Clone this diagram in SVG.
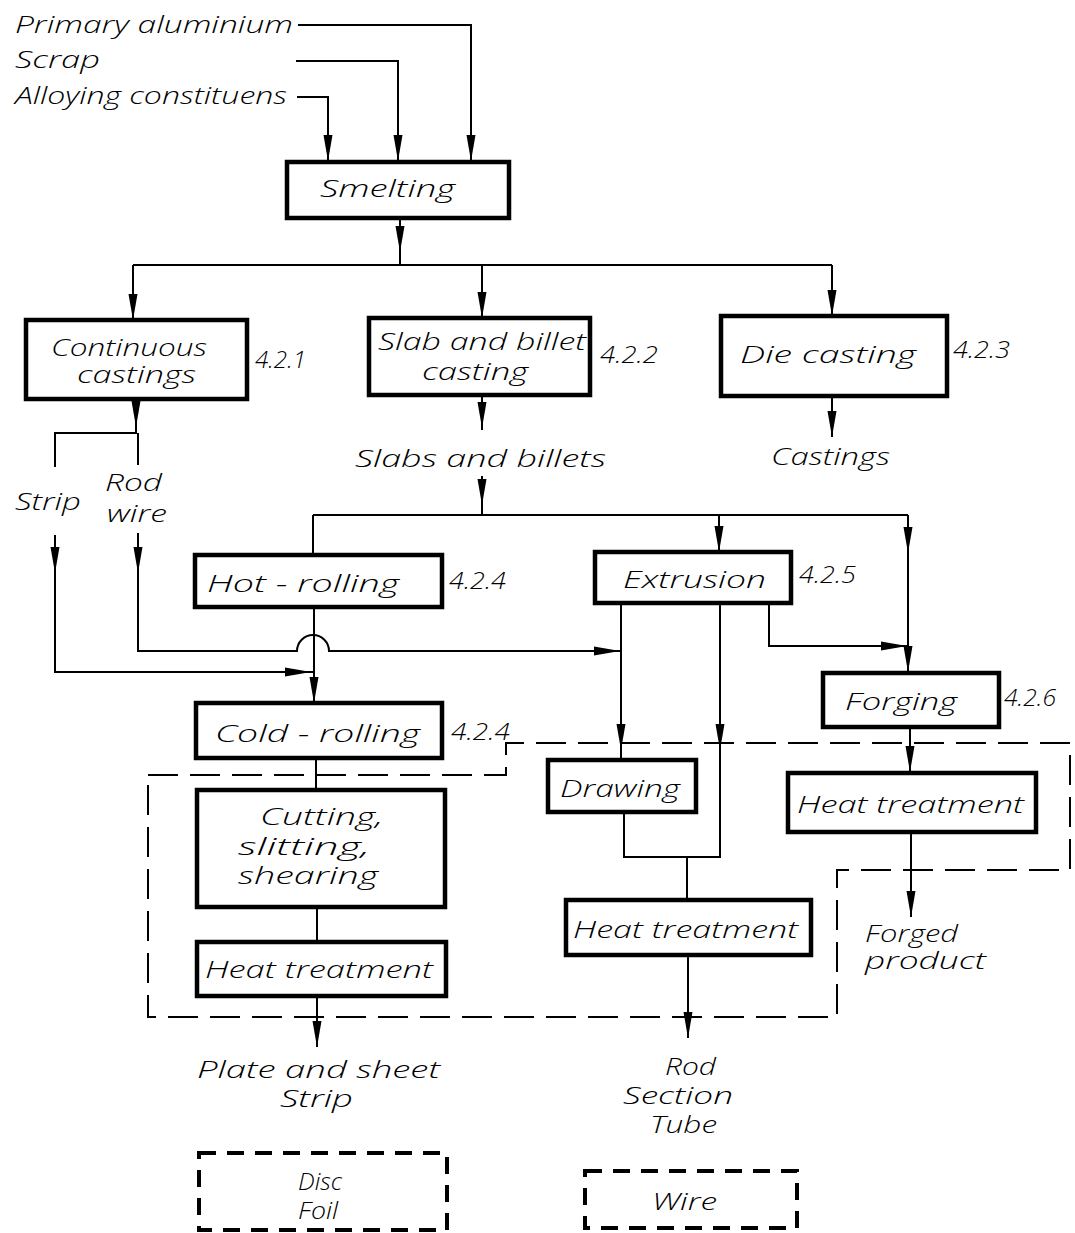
<svg xmlns="http://www.w3.org/2000/svg" xmlns:xlink="http://www.w3.org/1999/xlink" width="1075" height="1233" viewBox="0 0 1075 1233">
<style>
.t{font-family:"Open Sans","DejaVu Sans","Liberation Sans",sans-serif;font-style:italic;font-weight:300;font-size:24px;fill:#000}
.box{fill:#fff;stroke:#000;stroke-width:4.5}
.ln{fill:none;stroke:#000;stroke-width:2}
.dash{fill:none;stroke:#000;stroke-width:2;stroke-dasharray:30 12}
.dbox{fill:none;stroke:#000;stroke-width:4;stroke-dasharray:17 11}
</style>
<defs>
<path id="ah" d="M0,0 L-4.5,-26 L4.5,-26 Z" fill="#000"/>
</defs>
<rect width="1075" height="1233" fill="#fff"/>

<g id="inputs">
<text class="t" x="15" y="33" textLength="278" lengthAdjust="spacingAndGlyphs">Primary aluminium</text>
<text class="t" x="15" y="68" textLength="85" lengthAdjust="spacingAndGlyphs">Scrap</text>
<text class="t" x="15" y="104" textLength="272" lengthAdjust="spacingAndGlyphs">Alloying constituens</text>
</g>

<g id="connectors">
<path class="ln" d="M298,25 H471 V161"/>
<path class="ln" d="M296,61 H398 V161"/>
<path class="ln" d="M297,97 H328 V161"/>
<path class="ln" d="M400,218 V265"/>
<path class="ln" d="M133,265 H832 M133,265 V320 M482,265 V318 M832,265 V316"/>
<path class="ln" d="M136,399 V433 H55 V467 M55,535 V672 H313"/>
<path class="ln" d="M138,433 V465 M138,533 V651 H297 A16,16 0 0 1 329,651 H621"/>
<path class="ln" d="M482,395 V430 M482,476 V515 M313,515 H908 M313,515 V555 M719,515 V552 M908,515 V673"/>
<path class="ln" d="M314,607 V703"/>
<path class="ln" d="M316,758 V790 M317,907 V942 M317,996 V1047"/>
<path class="ln" d="M621,603 V760 M720,603 V857 H624 V812 M687,857 V900 M688,955 V1038"/>
<path class="ln" d="M769,603 V646 H908"/>
<path class="ln" d="M910,727 V773 M911,832 V917"/>
<path class="ln" d="M832,396 V437"/>
<path class="dash" d="M148,775 H506 V743 H1070 V870 H837 V1017 H148 Z"/>
<use xlink:href="#ah" x="471" y="161"/>
<use xlink:href="#ah" x="398" y="161"/>
<use xlink:href="#ah" x="328" y="161"/>
<use xlink:href="#ah" x="400" y="252"/>
<use xlink:href="#ah" x="133" y="320"/>
<use xlink:href="#ah" x="482" y="318"/>
<use xlink:href="#ah" x="832" y="316"/>
<use xlink:href="#ah" x="136" y="427"/>
<use xlink:href="#ah" x="482" y="428"/>
<use xlink:href="#ah" x="832" y="437"/>
<use xlink:href="#ah" x="482" y="505"/>
<use xlink:href="#ah" x="55" y="573"/>
<use xlink:href="#ah" x="138" y="573"/>
<use xlink:href="#ah" transform="translate(311,672) rotate(-90)"/>
<use xlink:href="#ah" x="314" y="703"/>
<use xlink:href="#ah" transform="translate(620,651) rotate(-90)"/>
<use xlink:href="#ah" x="719" y="552"/>
<use xlink:href="#ah" x="908" y="553"/>
<use xlink:href="#ah" transform="translate(907,646) rotate(-90)"/>
<use xlink:href="#ah" x="908" y="672"/>
<use xlink:href="#ah" x="621" y="750"/>
<use xlink:href="#ah" x="720" y="750"/>
<use xlink:href="#ah" x="910" y="772"/>
<use xlink:href="#ah" x="911" y="917"/>
<use xlink:href="#ah" x="317" y="1047"/>
<use xlink:href="#ah" x="688" y="1038"/>
</g>

<g id="smelting">
<rect class="box" x="287" y="162" width="222" height="56"/>
<text class="t" x="320" y="197" textLength="135" lengthAdjust="spacingAndGlyphs">Smelting</text>
</g>

<g id="continuous">
<rect class="box" x="26" y="320" width="221" height="79"/>
<text class="t" x="51" y="356" textLength="156" lengthAdjust="spacingAndGlyphs">Continuous</text>
<text class="t" x="77" y="383" textLength="119" lengthAdjust="spacingAndGlyphs">castings</text>
<text class="t" x="255" y="368" textLength="51" lengthAdjust="spacingAndGlyphs">4.2.1</text>
</g>

<g id="slab">
<rect class="box" x="369" y="318" width="221" height="77"/>
<text class="t" x="378" y="350" textLength="208" lengthAdjust="spacingAndGlyphs">Slab and billet</text>
<text class="t" x="422" y="380" textLength="106" lengthAdjust="spacingAndGlyphs">casting</text>
<text class="t" x="600" y="363" textLength="58" lengthAdjust="spacingAndGlyphs">4.2.2</text>
</g>

<g id="die">
<rect class="box" x="721" y="316" width="226" height="80"/>
<text class="t" x="740" y="363" textLength="176" lengthAdjust="spacingAndGlyphs">Die casting</text>
<text class="t" x="953" y="358" textLength="57" lengthAdjust="spacingAndGlyphs">4.2.3</text>
</g>

<g id="castings">
<text class="t" x="771" y="465" textLength="119" lengthAdjust="spacingAndGlyphs">Castings</text>
</g>

<g id="slabs">
<text class="t" x="355" y="467" textLength="251" lengthAdjust="spacingAndGlyphs">Slabs and billets</text>
</g>

<g id="strip-rod">
<text class="t" x="15" y="510" textLength="66" lengthAdjust="spacingAndGlyphs">Strip</text>
<text class="t" x="105" y="491" textLength="57" lengthAdjust="spacingAndGlyphs">Rod</text>
<text class="t" x="107" y="522" textLength="60" lengthAdjust="spacingAndGlyphs">wire</text>
</g>

<g id="hot-rolling">
<rect class="box" x="195" y="555" width="247" height="52"/>
<text class="t" x="207" y="592" textLength="192" lengthAdjust="spacingAndGlyphs">Hot - rolling</text>
<text class="t" x="449" y="589" textLength="57" lengthAdjust="spacingAndGlyphs">4.2.4</text>
</g>

<g id="extrusion">
<rect class="box" x="595" y="552" width="196" height="51"/>
<text class="t" x="623" y="588" textLength="143" lengthAdjust="spacingAndGlyphs">Extrusion</text>
<text class="t" x="799" y="583" textLength="57" lengthAdjust="spacingAndGlyphs">4.2.5</text>
</g>

<g id="forging">
<rect class="box" x="823" y="673" width="176" height="54"/>
<text class="t" x="845" y="710" textLength="112" lengthAdjust="spacingAndGlyphs">Forging</text>
<text class="t" x="1004" y="706" textLength="52" lengthAdjust="spacingAndGlyphs">4.2.6</text>
</g>

<g id="cold-rolling">
<rect class="box" x="196" y="703" width="246" height="55"/>
<text class="t" x="215" y="742" textLength="205" lengthAdjust="spacingAndGlyphs">Cold - rolling</text>
<text class="t" x="451" y="740" textLength="59" lengthAdjust="spacingAndGlyphs">4.2.4</text>
</g>

<g id="drawing">
<rect class="box" x="548" y="760" width="148" height="52"/>
<text class="t" x="560" y="797" textLength="120" lengthAdjust="spacingAndGlyphs">Drawing</text>
</g>

<g id="heat-forging">
<rect class="box" x="788" y="773" width="248" height="59"/>
<text class="t" x="797" y="813" textLength="227" lengthAdjust="spacingAndGlyphs">Heat treatment</text>
</g>

<g id="cutting">
<rect class="box" x="197" y="790" width="248" height="117"/>
<text class="t" x="260" y="825" textLength="123" lengthAdjust="spacingAndGlyphs">Cutting,</text>
<text class="t" x="238" y="855" textLength="132" lengthAdjust="spacingAndGlyphs">slitting,</text>
<text class="t" x="238" y="884" textLength="140" lengthAdjust="spacingAndGlyphs">shearing</text>
</g>

<g id="heat-plate">
<rect class="box" x="197" y="942" width="249" height="54"/>
<text class="t" x="205" y="978" textLength="228" lengthAdjust="spacingAndGlyphs">Heat treatment</text>
</g>

<g id="heat-rod">
<rect class="box" x="566" y="900" width="245" height="55"/>
<text class="t" x="573" y="938" textLength="225" lengthAdjust="spacingAndGlyphs">Heat treatment</text>
</g>

<g id="forged-product">
<text class="t" x="865" y="942" textLength="93" lengthAdjust="spacingAndGlyphs">Forged</text>
<text class="t" x="865" y="969" textLength="121" lengthAdjust="spacingAndGlyphs">product</text>
</g>

<g id="plate-product">
<text class="t" x="197" y="1078" textLength="243" lengthAdjust="spacingAndGlyphs">Plate and sheet</text>
<text class="t" x="280" y="1107" textLength="73" lengthAdjust="spacingAndGlyphs">Strip</text>
</g>

<g id="rod-product">
<text class="t" x="665" y="1075" textLength="51" lengthAdjust="spacingAndGlyphs">Rod</text>
<text class="t" x="623" y="1104" textLength="110" lengthAdjust="spacingAndGlyphs">Section</text>
<text class="t" x="650" y="1133" textLength="67" lengthAdjust="spacingAndGlyphs">Tube</text>
</g>

<g id="disc-foil">
<rect class="dbox" x="199" y="1153" width="248" height="77"/>
<text class="t" x="298" y="1190" textLength="44" lengthAdjust="spacingAndGlyphs">Disc</text>
<text class="t" x="298" y="1219" textLength="40" lengthAdjust="spacingAndGlyphs">Foil</text>
</g>

<g id="wire">
<rect class="dbox" x="585" y="1171" width="212" height="57"/>
<text class="t" x="652" y="1210" textLength="65" lengthAdjust="spacingAndGlyphs">Wire</text>
</g>
</svg>
